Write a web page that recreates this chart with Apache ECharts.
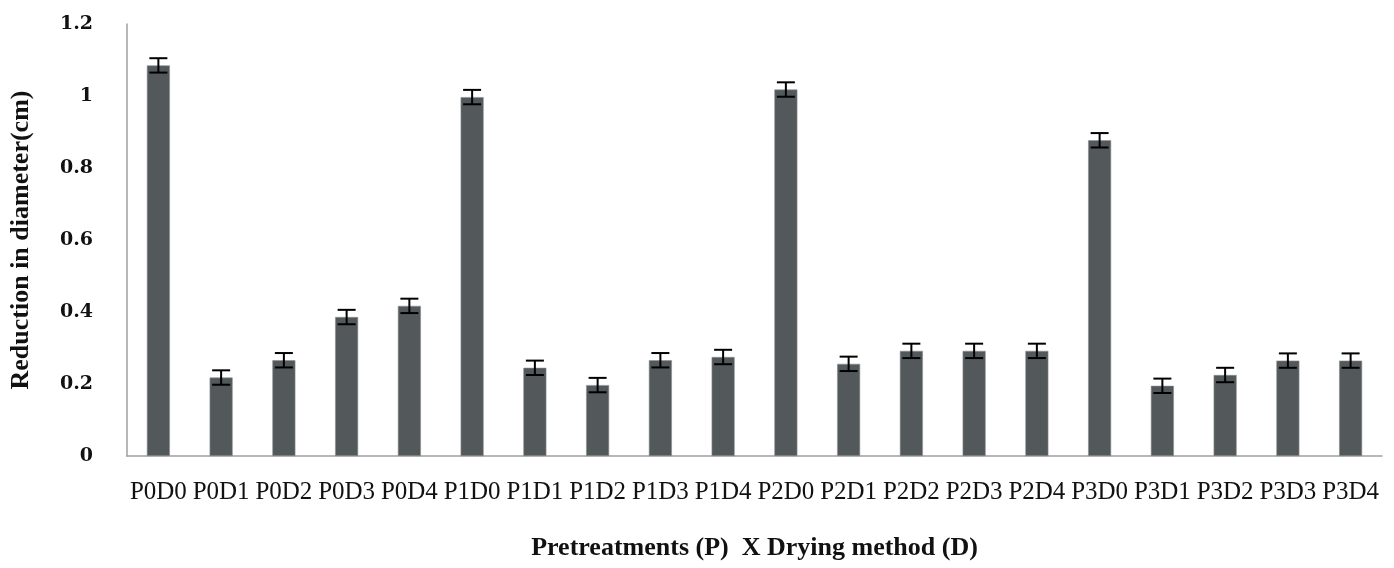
<!DOCTYPE html>
<html>
<head>
<meta charset="utf-8">
<script src="https://cdn.jsdelivr.net/npm/echarts@6/dist/echarts.min.js"></script>
<style>html,body{margin:0;padding:0;background:#fff}#c{width:1394px;height:568px}</style>
</head>
<body>
<div id="c"></div>
<script>
var categories = ["P0D0","P0D1","P0D2","P0D3","P0D4","P1D0","P1D1","P1D2","P1D3","P1D4","P2D0","P2D1","P2D2","P2D3","P2D4","P3D0","P3D1","P3D2","P3D3","P3D4"];
var values = [1.085, 0.218, 0.266, 0.386, 0.417, 0.997, 0.245, 0.197, 0.266, 0.275, 1.018, 0.256, 0.292, 0.292, 0.292, 0.877, 0.195, 0.225, 0.265, 0.265];
var errors = [0.02, 0.02, 0.02, 0.02, 0.02, 0.02, 0.02, 0.02, 0.02, 0.02, 0.02, 0.02, 0.02, 0.02, 0.02, 0.02, 0.02, 0.02, 0.02, 0.02];
var yTicks = {min: 0, max: 1.2, interval: 0.2};

var errData = values.map(function (v, i) { return [i, v - errors[i], v + errors[i]]; });

var chart = echarts.init(document.getElementById('c'));
chart.setOption({
  animation: false,
  backgroundColor: '#fff',
  grid: {left: 125, right: 12, top: 24, bottom: 112},
  xAxis: {
    type: 'category',
    data: categories,
    boundaryGap: true,
    axisLine: {show: true, lineStyle: {color: '#a0a0a0', width: 1.5}},
    axisTick: {show: false},
    axisLabel: {interval: 0, margin: 24, color: '#111', fontFamily: 'Liberation Serif', fontSize: 25},
    name: 'Pretreatments (P)  X Drying method (D)',
    nameLocation: 'middle',
    nameGap: 79,
    nameTextStyle: {color: '#111', fontFamily: 'Liberation Serif', fontWeight: 'bold', fontSize: 26}
  },
  yAxis: {
    type: 'value',
    min: yTicks.min, max: yTicks.max, interval: yTicks.interval,
    splitLine: {show: false},
    axisLine: {show: true, lineStyle: {color: '#a0a0a0', width: 1.5}},
    axisTick: {show: false},
    axisLabel: {margin: 34, color: '#111', fontFamily: 'DejaVu Serif', fontWeight: 'bold', fontSize: 19, padding: [0, 0, 8, 0]},
    name: 'Reduction in diameter(cm)',
    nameLocation: 'middle',
    nameGap: 93,
    nameRotate: 90,
    nameTextStyle: {color: '#111', fontFamily: 'Liberation Serif', fontWeight: 'bold', fontSize: 26}
  },
  series: [
    {
      type: 'bar',
      data: values,
      barWidth: 23,
      itemStyle: {color: '#53585a', borderColor: '#8a8e90', borderWidth: 0.6}
    },
    {
      type: 'custom',
      data: errData,
      z: 10,
      renderItem: function (params, api) {
        var x = api.value(0);
        var lo = api.coord([x, api.value(1)]);
        var hi = api.coord([x, api.value(2)]);
        var hw = 9;
        var st = {stroke: '#000', lineWidth: 2};
        return {
          type: 'group',
          children: [
            {type: 'line', shape: {x1: lo[0], y1: lo[1], x2: hi[0], y2: hi[1]}, style: st},
            {type: 'line', shape: {x1: lo[0] - hw, y1: lo[1], x2: lo[0] + hw, y2: lo[1]}, style: st},
            {type: 'line', shape: {x1: hi[0] - hw, y1: hi[1], x2: hi[0] + hw, y2: hi[1]}, style: st}
          ]
        };
      }
    }
  ]
});
</script>
</body>
</html>
